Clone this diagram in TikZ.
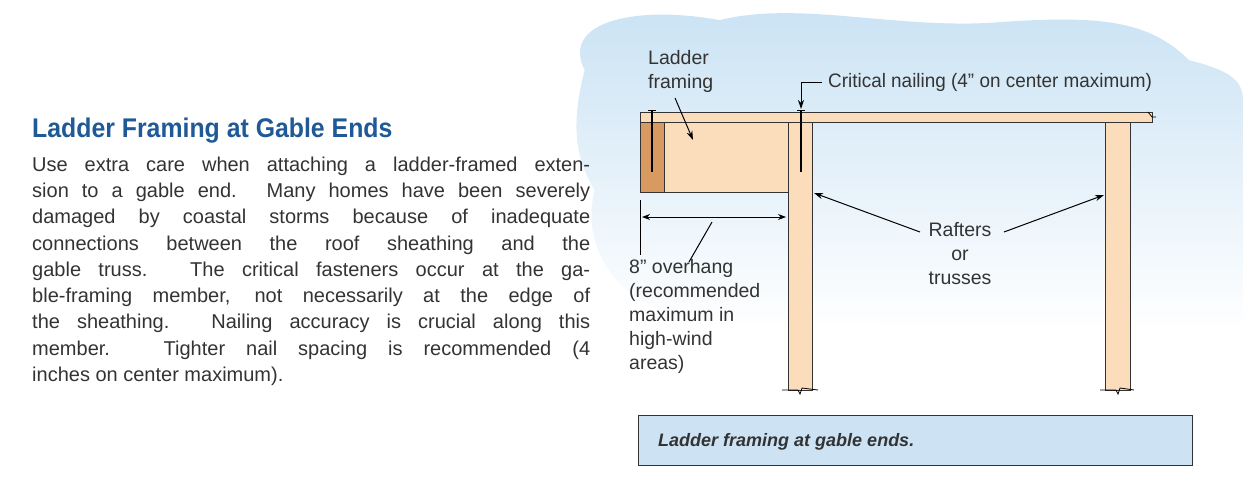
\documentclass[tikz,border=0pt]{standalone}
\usepackage{fontspec}
\setmainfont{Liberation Sans}
\usetikzlibrary{arrows.meta,fadings}
\definecolor{wood}{HTML}{FBDDBC}
\definecolor{woodd}{HTML}{D89A60}
\definecolor{sky}{HTML}{C9E2F4}
\definecolor{cap}{HTML}{CDE3F4}
\definecolor{ttl}{HTML}{1F5A96}
\definecolor{ink}{HTML}{333333}
\tikzset{
  woodpart/.style={draw=ink,fill=wood,line width=0.9pt},
  lbl/.style={font=\fontsize{19.5}{24}\selectfont,text=ink,inner sep=0pt,align=left},
  lead/.style={draw=black,line width=1pt,-{Stealth[length=9pt,width=6pt]}},
  nail/.style={line width=2.2pt,black},
  bodyl/.style={anchor=base west,inner sep=0pt,font=\fontsize{20}{22}\selectfont,text=ink}
}
\newcommand{\jline}[1]{\makebox[558pt][s]{#1}}
\begin{document}
\begin{tikzpicture}[x=1pt,y=-1pt]
\useasboundingbox (0,0) rectangle (1244,482);
% cloud
\fill[sky,path fading=south] (585,70) .. controls (560,20) and (640,5) .. (720,20)
 .. controls (800,0) and (900,30) .. (1000,22) .. controls (1100,15) and (1150,20) .. (1190,60)
 .. controls (1230,70) and (1244,80) .. (1244,100)
 -- (1244,330) .. controls (1100,320) and (900,330) .. (700,320) .. controls (620,310) and (580,250) .. (595,190)
 .. controls (570,150) and (575,110) .. (585,70) -- cycle;
% title and body
\node[anchor=base west,inner sep=0pt,font=\bfseries\fontsize{27}{30}\selectfont,text=ttl,xscale=0.92] (title) at (32,137) {Ladder Framing at Gable Ends};
\node[bodyl] (b1) at (32,171) {\jline{Use extra care when attaching a ladder-framed exten-}};
\node[bodyl] (b2) at (32,197) {\jline{sion to a gable end. Many homes have been severely}};
\node[bodyl] (b3) at (32,223) {\jline{damaged by coastal storms because of inadequate}};
\node[bodyl] (b4) at (32,250) {\jline{connections between the roof sheathing and the}};
\node[bodyl] (b5) at (32,276) {\jline{gable truss. The critical fasteners occur at the ga-}};
\node[bodyl] (b6) at (32,302) {\jline{ble-framing member, not necessarily at the edge of}};
\node[bodyl] (b7) at (32,328) {\jline{the sheathing. Nailing accuracy is crucial along this}};
\node[bodyl] (b8) at (32,355) {\jline{member. Tighter nail spacing is recommended (4}};
\node[bodyl] (b9) at (32,381) {inches on center maximum).};
% framing
\draw[woodpart] (640,122) rectangle (790,192);
\draw[woodpart,fill=woodd] (640,122) rectangle (664,192);
\draw[woodpart] (788,122) rectangle (812,390);
\draw[woodpart] (1105,122) rectangle (1130,390);
\draw[woodpart] (640,112) -- (1152,112) -- (1152,122) -- (640,122) -- cycle;
\draw[line width=0.8pt] (1148,112) -- (1152,117) -- (1156,117);
\draw[line width=0.8pt] (782,390) -- (798,390) -- (800,394) -- (802,388) -- (818,390);
\draw[line width=0.8pt] (1100,390) -- (1116,390) -- (1118,394) -- (1120,388) -- (1134,390);
\draw[nail] (652,110) -- (652,172); \draw[line width=1pt] (648,110) -- (656,110);
\draw[nail] (801,110) -- (801,172); \draw[line width=1pt] (797,110) -- (805,110);
% dimension
\draw[line width=1pt] (640,200) -- (640,255);
\coordinate (d1) at (642,217); \coordinate (d2) at (786,217);
\draw[line width=1pt,{Stealth[length=8pt,width=6pt]}-{Stealth[length=8pt,width=6pt]}] (d1) -- (d2);
% labels
\node[lbl,anchor=north west] (lf) at (648,50) {Ladder\\framing};
\coordinate (lft) at (693,140);
\draw[lead] (675,98) -- (lft);
\node[lbl,anchor=west,xscale=0.97] (cn) at (828,82) {Critical nailing (4" on center maximum)};
\coordinate (cnt) at (801,109);
\draw[lead] (822,82) -- (801,82) -- (cnt);
\node[lbl,align=center,anchor=north] (raf) at (960,222) {Rafters\\or\\trusses};
\coordinate (r1) at (814,193); \coordinate (r2) at (1104,195);
\draw[lead] (920,232) -- (r1);
\draw[lead] (1004,232) -- (r2);
\node[lbl,anchor=north west] (oh) at (629,259) {8" overhang\\(recommended\\maximum in\\high-wind\\areas)};
\draw[line width=1pt] (712,222) -- (689,262);
% caption
\node[draw=ink,line width=1pt,fill=cap,minimum width=554pt,minimum height=50pt,anchor=north west,inner sep=0pt] (capbox) at (638,415) {};
\node[anchor=west,inner sep=0pt,font=\bfseries\itshape\fontsize{18}{20}\selectfont,text=ink] (capt) at (658,442) {Ladder framing at gable ends.};
\end{tikzpicture}
\end{document}
